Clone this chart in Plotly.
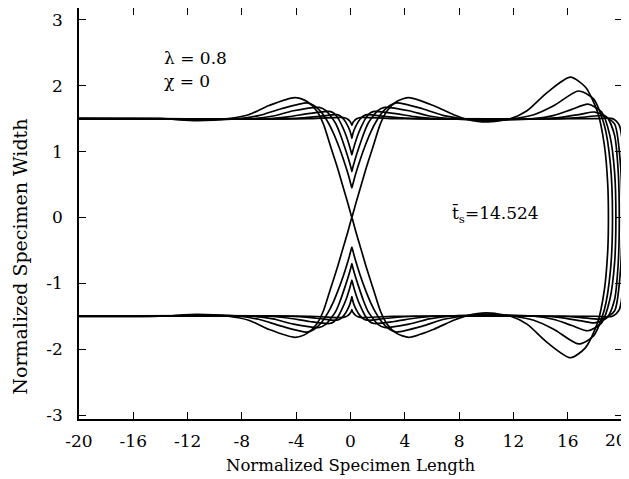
import plotly.graph_objects as go

# Top-half profiles (x, y) of the specimen outline at successive times,
# read from the picture; the bottom half is the mirror image (y -> -y).
X0 = [-20.5, -3, -0.7, -0.4, -0.2, -0.05, 0.05, 0.1, 0.15, 0.25, 0.4, 0.6, 0.9, 3.2, 18, 19.3, 19.8, 20.1, 20.25]
Y0 = [1.5, 1.5, 1.52, 1.51, 1.49, 1.46, 1.43, 1.4, 1.43, 1.46, 1.49, 1.51, 1.52, 1.5, 1.5, 1.5, 1.4, 1.0, 0.0]

X1 = [-20.5, -4.5, -2.5, -1.0, -0.75, -0.5, -0.25, -0.05, 0.05, 0.1, 0.15, 0.25, 0.45, 0.7, 0.95, 1.2, 2.7, 4.7, 15.5, 17, 18.6, 19.45, 19.85, 20.0]
Y1 = [1.5, 1.5, 1.53, 1.56, 1.54, 1.49, 1.41, 1.32, 1.25, 1.2, 1.25, 1.32, 1.41, 1.49, 1.54, 1.56, 1.53, 1.5, 1.5, 1.52, 1.54, 1.42, 0.9, 0.0]

X2 = [-20.5, -6, -4.5, -3, -1.55, -1.2, -0.9, -0.58, -0.3, -0.08, 0.04, 0.1, 0.16, 0.28, 0.5, 0.78, 1.1, 1.4, 1.75, 3.2, 4.7, 6.2, 14, 15.5, 17, 18.0, 18.9, 19.45, 19.72, 19.8]
Y2 = [1.5, 1.5, 1.53, 1.58, 1.61, 1.58, 1.5, 1.37, 1.23, 1.09, 1.0, 0.95, 1.0, 1.09, 1.23, 1.37, 1.5, 1.58, 1.61, 1.58, 1.53, 1.5, 1.5, 1.52, 1.57, 1.6, 1.52, 1.25, 0.7, 0.0]

X3 = [-20.5, -14, -7.2, -5.7, -4.2, -2.3, -1.8, -1.4, -1.1, -0.75, -0.4, -0.12, 0.03, 0.1, 0.17, 0.32, 0.6, 0.95, 1.3, 1.6, 2.0, 2.5, 4.3, 5.8, 7.3, 10, 13.5, 15, 16.3, 17.5, 18.5, 19.1, 19.45, 19.55]
Y3 = [1.5, 1.5, 1.5, 1.54, 1.62, 1.67, 1.62, 1.52, 1.43, 1.26, 1.05, 0.87, 0.76, 0.7, 0.76, 0.87, 1.05, 1.26, 1.43, 1.52, 1.62, 1.67, 1.62, 1.54, 1.5, 1.48, 1.5, 1.55, 1.64, 1.72, 1.6, 1.25, 0.7, 0.0]

X4 = [-20.5, -14, -11.3, -8.2, -6.7, -5.1, -3.2, -2.7, -2.2, -1.7, -1.3, -0.9, -0.5, -0.15, 0.02, 0.1, 0.18, 0.35, 0.7, 1.1, 1.5, 1.9, 2.4, 2.9, 3.4, 5.3, 6.8, 8.3, 10, 12, 13.5, 15, 16.8, 17.9, 18.7, 19.15, 19.3]
Y4 = [1.5, 1.5, 1.48, 1.5, 1.55, 1.65, 1.74, 1.7, 1.61, 1.46, 1.3, 1.1, 0.87, 0.64, 0.51, 0.45, 0.51, 0.64, 0.87, 1.1, 1.3, 1.46, 1.61, 1.7, 1.74, 1.65, 1.55, 1.5, 1.47, 1.5, 1.56, 1.7, 1.92, 1.8, 1.4, 0.8, 0.0]

X5 = [-20.5, -14, -11.3, -9, -7.5, -6, -4.1, -3.2, -2.5, -2.0, -1.5, -1.0, -0.6, -0.2, 0.0, 0.1, 0.2, 0.4, 0.8, 1.2, 1.7, 2.2, 2.7, 3.4, 4.3, 6.1, 7.6, 8.6, 10, 11.8, 13, 14.5, 16.2, 17.3, 18.2, 18.7, 18.95, 19.0]
Y5 = [1.5, 1.5, 1.47, 1.5, 1.56, 1.7, 1.82, 1.76, 1.62, 1.42, 1.1, 0.78, 0.5, 0.22, 0.07, 0.0, 0.07, 0.22, 0.5, 0.78, 1.1, 1.42, 1.62, 1.76, 1.82, 1.7, 1.56, 1.49, 1.45, 1.5, 1.62, 1.9, 2.13, 1.98, 1.6, 1.1, 0.5, 0.0]

PROFILES = [(X0, Y0), (X1, Y1), (X2, Y2), (X3, Y3), (X4, Y4), (X5, Y5)]

X_TICKS = [-20, -16, -12, -8, -4, 0, 4, 8, 12, 16, 20]
X_TICK_TEXT = ["-20", "-16", "-12", "-8", "-4", "0", "4", "8", "12", "16", ""]
LAST_X_LABEL = "20"   # drawn flush with the window edge, as in the reference
Y_TICKS = [-3, -2, -1, 0, 1, 2, 3]

FONT = "DejaVu Serif"

fig = go.Figure()
for px, py in PROFILES:
    xs = list(px) + list(px[-2::-1])
    ys = list(py) + [-v for v in py[-2::-1]]
    fig.add_trace(go.Scatter(
        x=xs, y=ys, mode="lines",
        line=dict(color="black", width=1.7, shape="spline", smoothing=0.7),
        showlegend=False, hoverinfo="skip"))

axis_common = dict(
    showline=True, linecolor="black", linewidth=1.5, mirror="ticks",
    ticks="inside", ticklen=7, tickwidth=1.2, tickcolor="black",
    showgrid=False, zeroline=False, automargin=False,
    ticklabeloverflow="allow",
    tickfont=dict(family=FONT, size=17, color="black"),
)

fig.update_xaxes(range=[-20, 20], tickvals=X_TICKS, ticktext=X_TICK_TEXT,
                 ticklabelstandoff=6, **axis_common)
fig.update_yaxes(range=[-3.06, 3.18], tickvals=Y_TICKS, ticktext=[str(v) for v in Y_TICKS],
                 ticklabelstandoff=11, **axis_common)

fig.add_annotation(xref="paper", yref="paper", x=1, y=0, xshift=7, yshift=-21, text=LAST_X_LABEL,
                   showarrow=False, xanchor="right", yanchor="middle",
                   font=dict(family=FONT, size=17, color="black"))

# axis titles
fig.add_annotation(xref="paper", yref="paper", x=0.5, y=0, yshift=-46, text="Normalized Specimen Length",
                   showarrow=False, xanchor="center", yanchor="middle",
                   font=dict(family=FONT, size=16.5, color="black"))
fig.add_annotation(xref="paper", yref="paper", x=0, xshift=-59, y=0.395, text="Normalized Specimen Width",
                   textangle=-90, showarrow=False, xanchor="center", yanchor="middle",
                   font=dict(family=FONT, size=19, color="black"))

fig.add_annotation(x=-13.9, y=2.42, text="λ = 0.8", showarrow=False, xanchor="left", yanchor="middle",
                   font=dict(family=FONT, size=17, color="black"))
fig.add_annotation(x=-13.9, y=2.07, text="χ = 0", showarrow=False, xanchor="left", yanchor="middle",
                   font=dict(family=FONT, size=17, color="black"))
fig.add_annotation(x=7.3, y=0.05, text="t<sub>s</sub>=14.524", showarrow=False, xanchor="left",
                   yanchor="middle", font=dict(family=FONT, size=17, color="black"))
fig.add_annotation(x=7.3, y=0.05, text="\u00af", showarrow=False, xanchor="left", xshift=-1,
                   yanchor="middle", yshift=3, font=dict(family=FONT, size=17, color="black"))

# The page body has an 8 px margin, so the figure is sized to end at the window edge.
fig.update_layout(
    width=621, height=471, autosize=False,
    margin=dict(l=71, r=7, t=0, b=60),
    paper_bgcolor="white", plot_bgcolor="white",
    font=dict(family=FONT, color="black"),
)

fig.write_html("out.html")
